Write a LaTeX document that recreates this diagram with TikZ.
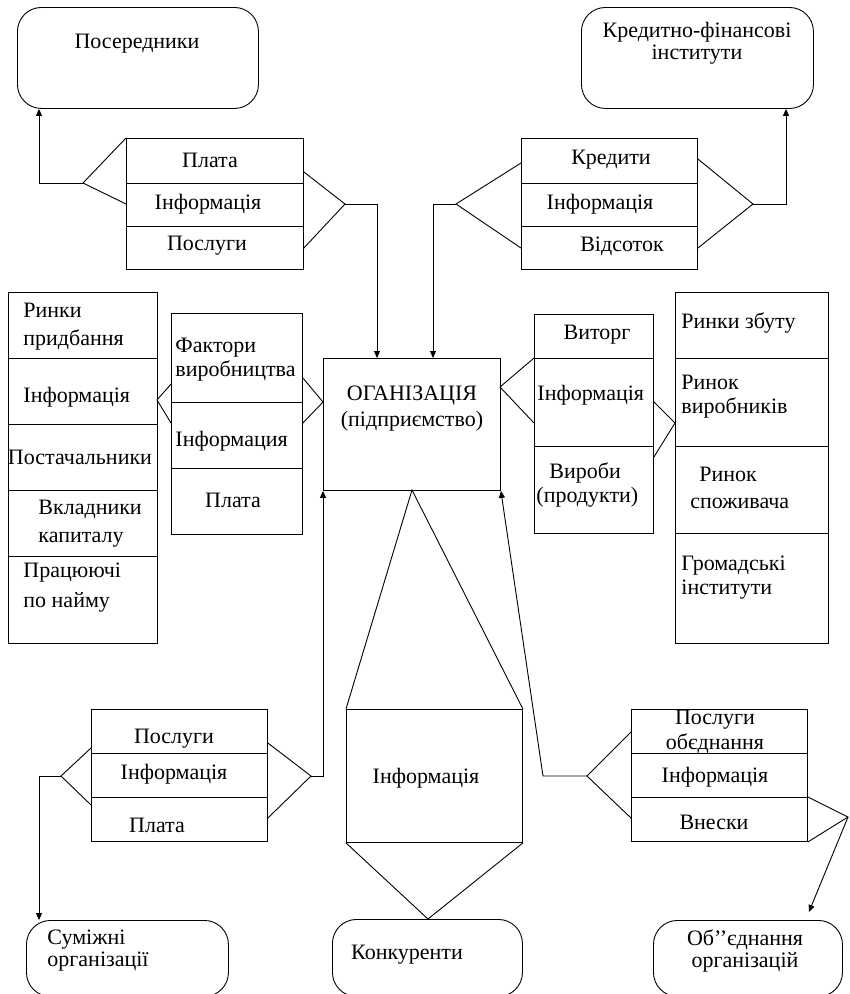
\documentclass[tikz,border=0pt]{standalone}
\usepackage{fontspec}
\setmainfont{Liberation Serif}
\usetikzlibrary{arrows.meta,calc}
\newcommand{\fs}[1]{\fontsize{22}{#1}\selectfont}
\begin{document}
\begin{tikzpicture}[x=1pt,y=-1pt,line width=0.9pt,
  box/.style={draw,rectangle,inner sep=0pt,anchor=north west},
  rbox/.style={draw,rectangle,rounded corners=24pt,inner sep=0pt,anchor=north west},
  lbl/.style={font=\fs{24},inner sep=0pt,align=center},
  lbll/.style={font=\fs{24},inner sep=0pt,align=left,anchor=west},
  arr/.style={-{Triangle[length=7pt,width=6pt]}}]
\useasboundingbox (0,0) rectangle (850,994);

% ---- boxes ----
\node[rbox,minimum width=241pt,minimum height=101pt] (posr) at (17,7) {};
\node[rbox,minimum width=232pt,minimum height=101pt] (kred) at (581,7) {};
\node[box,minimum width=177pt,minimum height=131pt] (plata) at (126,138) {};
\node[box,minimum width=176pt,minimum height=131pt] (kredy) at (521,138) {};
\node[box,minimum width=149pt,minimum height=351pt] (lcol) at (8,292) {};
\node[box,minimum width=131pt,minimum height=221pt] (fact) at (171,313) {};
\node[box,minimum width=177pt,minimum height=132pt] (org) at (323,358) {};
\node[box,minimum width=119pt,minimum height=219pt] (vit) at (534,314) {};
\node[box,minimum width=153pt,minimum height=351pt] (mkt) at (675,292) {};
\node[box,minimum width=176pt,minimum height=132pt] (posl) at (91,709) {};
\node[box,minimum width=176pt,minimum height=133pt] (info) at (346,709) {};
\node[box,minimum width=176pt,minimum height=132pt] (posob) at (631,709) {};
\node[rbox,minimum width=202pt,minimum height=76pt] (sum) at (26,920) {};
\node[rbox,minimum width=190pt,minimum height=77pt] (konk) at (332,919) {};
\node[rbox,minimum width=189pt,minimum height=76pt] (obed) at (653,920) {};

% ---- dividers ----
\draw (126,183) -- (303,183) (126,226) -- (303,226);
\draw (521,183) -- (697,183) (521,226) -- (697,226);
\draw (8,358) -- (157,358) (8,424) -- (157,424) (8,490) -- (157,490) (8,556) -- (157,556);
\draw (171,402) -- (302,402) (171,468) -- (302,468);
\draw (534,358) -- (653,358) (534,446) -- (653,446);
\draw (675,358) -- (828,358) (675,446) -- (828,446) (675,533) -- (828,533);
\draw (91,753) -- (267,753) (91,797) -- (267,797);
\draw (631,753) -- (807,753) (631,797) -- (807,797);

% ---- texts ----
\node[lbl] (t1) at (137,44) {Посередники};
\node[lbl,font=\fs{22}] (t2) at (697,43) {Кредитно-фінансові\\інститути};
\node[lbl] (t3) at (210,160) {Плата};
\node[lbl] (t4) at (208,204) {Інформація};
\node[lbl] (t5) at (207,246) {Послуги};
\node[lbl] (t6) at (611,160) {Кредити};
\node[lbl] (t7) at (600,204) {Інформація};
\node[lbl] (t8) at (622,246) {Відсоток};
\node[lbll,font=\fs{28}] (t9) at (23,327) {Ринки\\придбання};
\node[lbll] (t10) at (23,397) {Інформація};
\node[lbl] (t11) at (80,457) {Постачальники};
\node[lbll,font=\fs{28}] (t12) at (38,524) {Вкладники\\капиталу};
\node[lbll,font=\fs{30}] (t13) at (23,588) {Працюючі\\по найму};
\node[lbll] (t14) at (175,360) {Фактори\\виробництва};
\node[lbll] (t15) at (175,441) {Інформация};
\node[lbl] (t16) at (233,500) {Плата};
\node[lbl,font=\fs{26}] (t17) at (412,409) {ОГАНІЗАЦІЯ\\(підприємство)};
\node[lbl] (t18) at (597,335) {Виторг};
\node[lbll] (t19) at (537,395) {Інформація};
\node[lbll] (t20) at (536,485) {\hspace{13pt}Вироби\\(продукти)};
\node[lbll] (t21) at (681,323) {Ринки збуту};
\node[lbll] (t22) at (681,397) {Ринок\\виробників};
\node[lbll,font=\fs{27}] (t23) at (690,488) {\hspace{9pt}Ринок\\споживача};
\node[lbll] (t24) at (681,578) {Громадські\\інститути};
\node[lbl] (t25) at (174,739) {Послуги};
\node[lbl] (t26) at (174,774) {Інформація};
\node[lbl] (t27) at (157,825) {Плата};
\node[lbl] (t28) at (426,778) {Інформація};
\node[lbl,font=\fs{25}] (t29) at (715,732) {Послуги\\обєднання};
\node[lbl] (t30) at (715,777) {Інформація};
\node[lbl] (t31) at (714,822) {Внески};
\node[lbll,font=\fs{22}] (t32) at (47,951) {Суміжні\\організації};
\node[lbl] (t33) at (407,955) {Конкуренти};
\node[lbl,font=\fs{22}] (t34) at (745,951) {Об’’єднання\\організацій};

% ---- connector apexes ----
\coordinate (pA) at (83,183);
\coordinate (pB) at (345,204);
\coordinate (pC) at (456,204);
\coordinate (pD) at (753,204);
\coordinate (pE) at (157,400);
\coordinate (pF) at (323,402);
\coordinate (pG) at (500,387);
\coordinate (pH) at (675,423);
\coordinate (pI) at (412,490);
\coordinate (pJ) at (428,919);
\coordinate (pK) at (61,776);
\coordinate (pL) at (311,776);
\coordinate (pM) at (587,776);
\coordinate (pN) at (848,817);
\coordinate (qM) at (543,776);

% ---- triangles ----
\draw (plata.north west) -- (pA) -- ($(plata.north west)+(0,66)$);
\draw ($(plata.north east)+(0,34)$) -- (pB) -- ($(plata.north east)+(0,110)$);
\draw ($(kredy.north west)+(0,25)$) -- (pC) -- ($(kredy.north west)+(0,110)$);
\draw ($(kredy.north east)+(0,21)$) -- (pD) -- ($(kredy.north east)+(0,110)$);
\draw ($(fact.north west)+(0,71)$) -- (pE) -- ($(fact.north west)+(0,110)$);
\draw ($(fact.north east)+(0,65)$) -- (pF) -- ($(fact.north east)+(0,110)$);
\draw ($(vit.north west)+(0,44)$) -- (pG) -- ($(vit.north west)+(0,109)$);
\draw ($(vit.north east)+(0,88)$) -- (pH) -- ($(vit.north east)+(0,143)$);
\draw (info.north west) -- (pI) -- (info.north east);
\draw (info.south west) -- (pJ) -- (info.south east);
\draw ($(posl.north west)+(0,39)$) -- (pK) -- ($(posl.north west)+(0,96)$);
\draw ($(posl.north east)+(0,34)$) -- (pL) -- ($(posl.north east)+(0,109)$);
\draw ($(posob.north west)+(0,23)$) -- (pM) -- ($(posob.north west)+(0,109)$);
\draw ($(posob.north east)+(0,88)$) -- (pN) -- (posob.south east);

% ---- arrows ----
\draw[arr] (pA) -| ($(posr.south west)+(22,0)$);
\draw[arr] (pB) -| ($(org.north west)+(54,0)$);
\draw[arr] (pC) -| ($(org.north west)+(110,0)$);
\draw[arr] (pD) -| ($(kred.south west)+(205,0)$);
\draw[arr] (pK) -| ($(sum.north west)+(13,0)$);
\draw[arr] (pL) -| (org.south west);
\draw[arr] (pM) -- (qM) -- (org.south east);
\draw[arr] (pN) -- ($(obed.north east)+(-34,-8)$);
\end{tikzpicture}
\end{document}
